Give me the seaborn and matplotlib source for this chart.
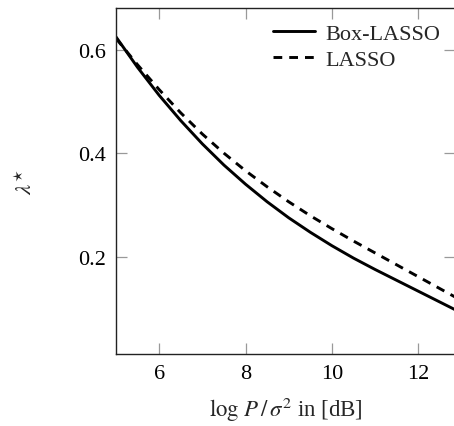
import matplotlib
matplotlib.use("Agg")
import matplotlib.pyplot as plt
import pandas as pd
import seaborn as sns

# values (x in dB)
snr_db = [5.0, 5.5, 6.0, 6.5, 7.0, 7.5, 8.0, 8.5, 9.0, 9.5,
          10.0, 10.5, 11.0, 11.5, 12.0, 12.5, 13.0]
box_lasso = [0.625, 0.566, 0.512, 0.463, 0.418, 0.377, 0.340, 0.306, 0.275, 0.247,
             0.221, 0.197, 0.175, 0.154, 0.133, 0.112, 0.091]
lasso = [0.622, 0.571, 0.523, 0.478, 0.437, 0.400, 0.366, 0.335, 0.306, 0.279,
         0.254, 0.230, 0.207, 0.184, 0.161, 0.138, 0.115]

x_ticks = [6, 8, 10, 12]
y_ticks = [0.2, 0.4, 0.6]

sns.set_theme(style="ticks")
plt.rcParams["font.family"] = ["Liberation Serif", "DejaVu Serif"]
plt.rcParams["mathtext.fontset"] = "stix"

df = pd.DataFrame({"snr": snr_db, "box": box_lasso, "lasso": lasso})

fig = plt.figure(figsize=(4.54, 4.27), dpi=100)
ax = fig.add_axes([0.2555, 0.1686, 0.7475, 0.8104])

sns.lineplot(data=df, x="snr", y="box", ax=ax, color="black", linewidth=2.1,
             label="Box-LASSO", solid_joinstyle="round")
sns.lineplot(data=df, x="snr", y="lasso", ax=ax, color="black", linewidth=2.1,
             linestyle=(0, (3.0, 2.4)), label="LASSO", dash_joinstyle="round")

ax.set_xlim(5, 12.86)
ax.set_ylim(0.0114, 0.681)
ax.set_xticks(x_ticks)
ax.set_yticks(y_ticks)
ax.set_xticklabels([str(t) for t in x_ticks])
ax.set_yticklabels([f"{t:.1f}" for t in y_ticks])

ax.tick_params(direction="in", length=8, width=0.9, color="#999999",
               top=True, right=True, labelsize=16, pad=7, labelcolor="black")
for sp in ax.spines.values():
    sp.set_visible(True)
    sp.set_color("#222222")
    sp.set_linewidth(1.0)

ax.set_xlabel(r"$\log\, P\,/\,\sigma^2$ in [dB]", fontsize=16.5, labelpad=9)
ax.set_ylabel(r"$\lambda^{\star}$", fontsize=16.5, labelpad=30)

leg = ax.legend(loc="upper right", frameon=False, fontsize=16,
                handlelength=1.9, handletextpad=0.45, labelspacing=0.25,
                borderaxespad=0.3, bbox_to_anchor=(1.0, 1.0))

fig.savefig("out.png", dpi=100)
